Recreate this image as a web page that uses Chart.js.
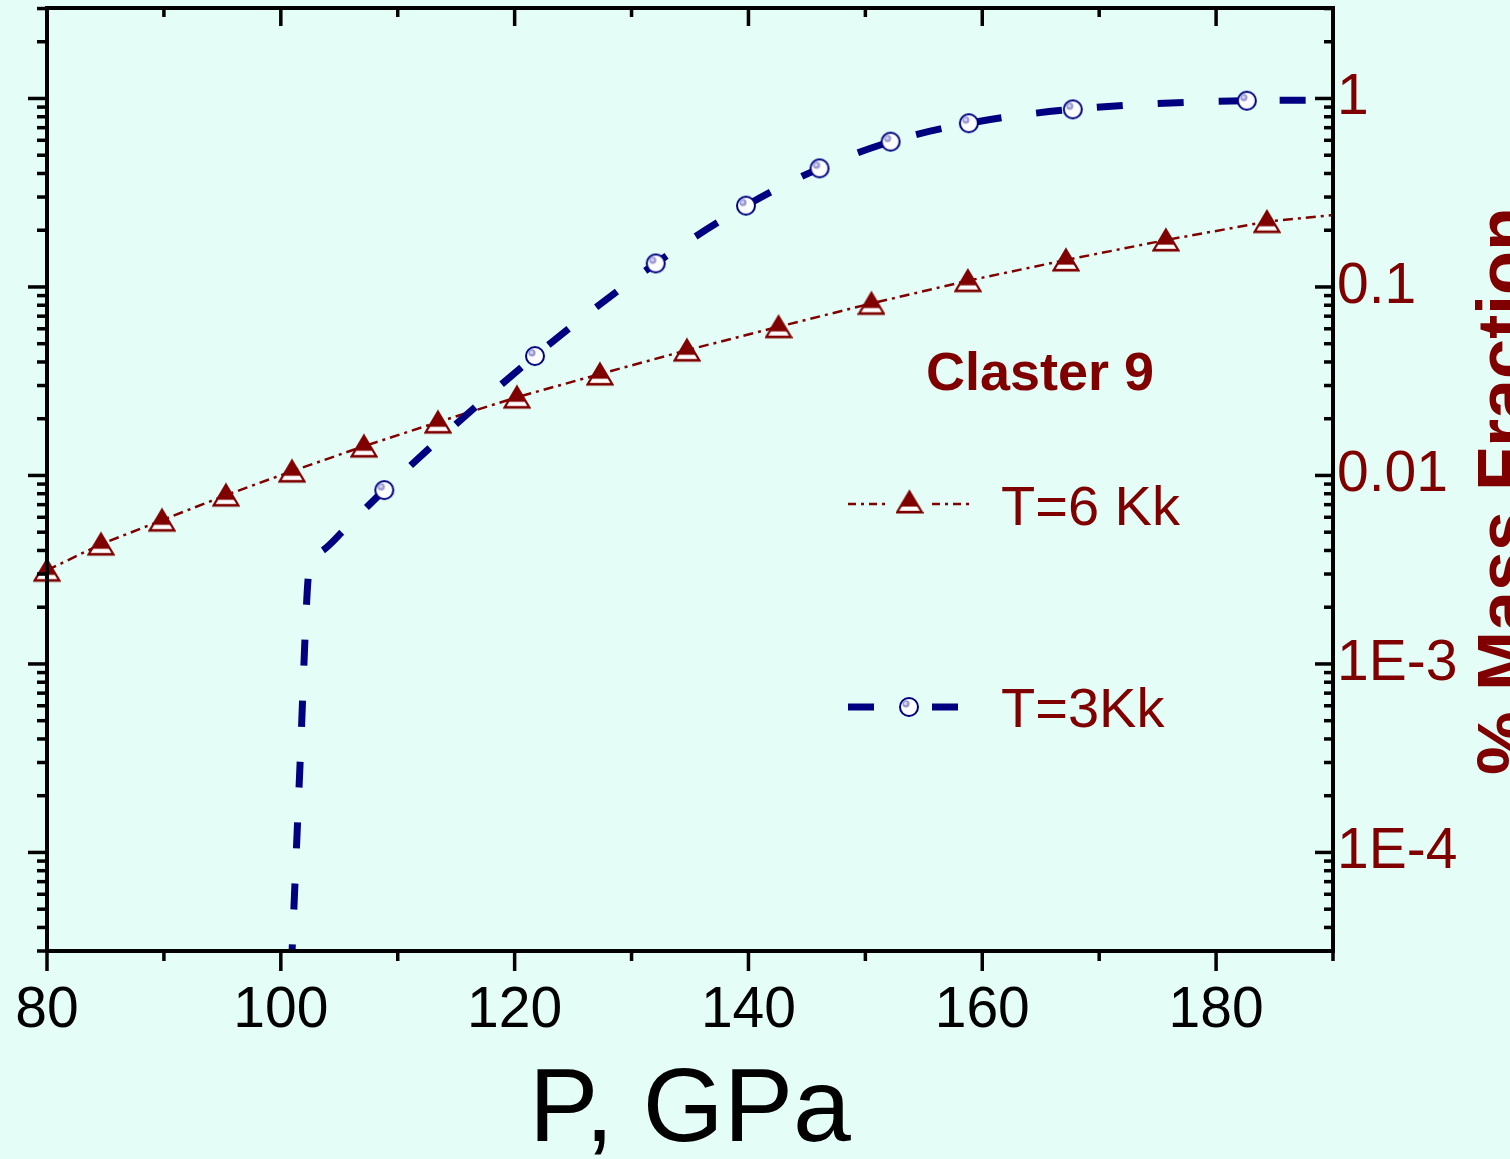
<!DOCTYPE html>
<html><head><meta charset="utf-8">
<script src="https://cdn.jsdelivr.net/npm/chart.js@4.4.1/dist/chart.umd.min.js"></script>
<style>html,body{margin:0;padding:0;background:#e4fef7;} canvas{display:block;}</style>
</head><body>
<canvas id="c" width="1510" height="1159"></canvas>
<script>
// ---- data ----
const t6P = [80, 84.62, 89.84, 95.31, 100.96, 107.11, 113.44, 120.20, 127.30, 134.74, 142.58, 150.52, 158.77, 167.16, 175.71, 184.35];
const t6V = [0.00314, 0.00432, 0.00579, 0.00786, 0.01054, 0.0143, 0.01918, 0.02602, 0.0345, 0.0462, 0.0615, 0.0818, 0.1079, 0.139, 0.1774, 0.222];
const t6EndP = [190];
const t6EndV = [0.241];
const t3P = [108.85, 121.74, 132.07, 139.79, 146.08, 152.16, 158.85, 167.74, 182.63];
const t3V = [0.00836, 0.0430, 0.1334, 0.270, 0.426, 0.590, 0.739, 0.876, 0.973];
const t3CurveP = [100.91, 101.64, 102.33, 102.75, 103.6, 105.4, 190];
const t3CurveV = [2.5e-5, 2.9e-4, 0.00282, 0.00368, 0.00401, 0.00513, 0.98];
const xTickValues = [80, 100, 120, 140, 160, 180];
const xTickLabels = ['80', '100', '120', '140', '160', '180'];
const yTickValues = [1e-4, 1e-3, 0.01, 0.1, 1];
const yTickLabels = ['1E-4', '1E-3', '0.01', '0.1', '1'];
const xMin = 80, xMax = 190, yMin = 3e-5, yMax = 3.02;
const xTitle = 'P, GPa';
const yTitle = '% Mass Fraction';
const note = 'Claster 9';
const seriesNames = ['T=6 Kk', 'T=3Kk'];

const BG = '#e4fef7', RED = '#800000', NAVY = '#000080';
const FONT = '"Liberation Sans", Arial, sans-serif';

function pts(px, vy) { return px.map((p, i) => ({x: p, y: vy[i]})); }
const t6Line = pts(t6P.concat(t6EndP), t6V.concat(t6EndV)).sort((a, b) => a.x - b.x);
const t3Line = pts(t3P.concat(t3CurveP), t3V.concat(t3CurveV)).sort((a, b) => a.x - b.x);

// ---- marker images ----
function makeTriangle() {
  const c = document.createElement('canvas'); c.width = 28; c.height = 26;
  const g = c.getContext('2d');
  const cx = 14, ap = 2.5, base = 23.5, hw = 12.5;
  g.beginPath(); g.moveTo(cx, ap); g.lineTo(cx + hw, base); g.lineTo(cx - hw, base); g.closePath();
  g.fillStyle = RED; g.fill();
  g.save(); g.clip(); g.fillStyle = '#ffffff'; g.fillRect(0, 17.6, 28, 4.2); g.restore();
  g.beginPath(); g.moveTo(cx, ap); g.lineTo(cx + hw, base); g.lineTo(cx - hw, base); g.closePath();
  g.lineWidth = 2.2; g.strokeStyle = RED; g.lineJoin = 'miter'; g.stroke();
  return c;
}
function makeCircle() {
  const c = document.createElement('canvas'); c.width = 26; c.height = 26;
  const g = c.getContext('2d');
  g.beginPath(); g.arc(13, 13, 9, 0, Math.PI * 2); g.fillStyle = '#fbfdff'; g.fill();
  g.lineWidth = 2; g.strokeStyle = NAVY; g.stroke();
  g.beginPath(); g.arc(10, 9.8, 3.6, 0, Math.PI * 2); g.fillStyle = '#9b9bd2'; g.fill();
  g.beginPath(); g.arc(9.6, 9.4, 1.6, 0, Math.PI * 2); g.fillStyle = '#d4d4f2'; g.fill();
  return c;
}
const triImg = makeTriangle();
const cirImg = makeCircle();

function seg(ctx, x1, y1, x2, y2) { ctx.beginPath(); ctx.moveTo(x1, y1); ctx.lineTo(x2, y2); ctx.stroke(); }

const framePlugin = {
  id: 'frame',
  beforeDraw(chart) {
    const c = chart.ctx; c.save(); c.fillStyle = BG; c.fillRect(0, 0, chart.width, chart.height); c.restore();
  },
  afterDraw(chart) {
    const ctx = chart.ctx; const {left, right, top, bottom} = chart.chartArea;
    const xs = chart.scales.x, ys = chart.scales.y;
    ctx.save();
    ctx.strokeStyle = '#000'; ctx.lineCap = 'butt'; ctx.lineWidth = 3.5;
    for (let v = xMin; v <= xMax; v += 10) {
      const px = xs.getPixelForValue(v);
      const major = (v - xMin) % 20 === 0;
      seg(ctx, px, bottom, px, bottom + (major ? 20 : 10));
      seg(ctx, px, top, px, top + (major ? 18 : 9));
    }
    for (let e = -5; e <= 0; e++) {
      for (let m = 1; m <= 9; m++) {
        const v = m * Math.pow(10, e);
        if (v < yMin || v > yMax) continue;
        const py = ys.getPixelForValue(v);
        const major = m === 1;
        seg(ctx, left - (major ? 19 : 10), py, left, py);
        seg(ctx, right - (major ? 18 : 9), py, right, py);
      }
    }
    ctx.lineWidth = 4;
    ctx.strokeRect(left, top, right - left, bottom - top);

    // annotation + legend
    ctx.fillStyle = RED; ctx.textBaseline = 'alphabetic'; ctx.textAlign = 'left';
    ctx.font = 'bold 54px ' + FONT;
    ctx.fillText(note, 926, 390);
    ctx.font = '56px ' + FONT;
    ctx.fillText(seriesNames[0], 1001, 525);
    ctx.fillText(seriesNames[1], 1001, 727);

    ctx.strokeStyle = RED; ctx.lineWidth = 2.5; ctx.setLineDash([8, 5, 3, 5]);
    seg(ctx, 848, 504, 887, 504); seg(ctx, 932, 504, 971, 504);
    ctx.setLineDash([]);
    ctx.drawImage(triImg, 909.5 - triImg.width / 2, 502 - triImg.height / 2);
    ctx.strokeStyle = NAVY; ctx.lineWidth = 7;
    seg(ctx, 848, 707, 874, 707); seg(ctx, 932, 707, 958, 707);
    ctx.drawImage(cirImg, 909 - cirImg.width / 2, 707 - cirImg.height / 2);

    // right axis title (rotated)
    ctx.translate(1528, 491); ctx.rotate(-Math.PI / 2);
    ctx.font = 'bold 72px ' + FONT; ctx.textAlign = 'center'; ctx.textBaseline = 'alphabetic';
    ctx.fillStyle = RED;
    ctx.fillText(yTitle, 0, 0);
    ctx.restore();
  }
};

new Chart(document.getElementById('c'), {
  type: 'scatter',
  data: {
    datasets: [
      {label: seriesNames[1] + ' markers', data: pts(t3P, t3V), showLine: false, pointStyle: cirImg, pointRadius: 10, pointHoverRadius: 10, clip: false},
      {label: seriesNames[1], data: t3Line, showLine: true, pointRadius: 0, pointHoverRadius: 0, borderColor: NAVY, borderWidth: 7, borderDash: [26, 35], borderDashOffset: 4.5, cubicInterpolationMode: 'monotone', fill: false},
      {label: seriesNames[0] + ' markers', data: pts(t6P, t6V), showLine: false, pointStyle: triImg, pointRadius: 12, pointHoverRadius: 12, clip: false},
      {label: seriesNames[0], data: t6Line, showLine: true, pointRadius: 0, pointHoverRadius: 0, borderColor: RED, borderWidth: 2.5, borderDash: [10, 5, 3, 5], tension: 0, fill: false}
    ]
  },
  options: {
    responsive: false, animation: false, events: [],
    layout: {autoPadding: false, padding: {top: 8, left: 0, right: 0, bottom: 0}},
    plugins: {legend: {display: false}, tooltip: {enabled: false}},
    scales: {
      x: {
        type: 'linear', position: 'bottom', min: xMin, max: xMax,
        grid: {display: false, drawTicks: false}, border: {display: false},
        ticks: {font: {family: FONT, size: 57}, color: '#000', padding: 26, maxRotation: 0, autoSkip: false,
          callback: (v, i) => xTickLabels[i]},
        afterBuildTicks: s => { s.ticks = xTickValues.map(v => ({value: v})); },
        afterFit: s => { s.height = 208; s.paddingLeft = 0; s.paddingRight = 0; },
        title: {display: true, text: xTitle, color: '#000', font: {family: FONT, size: 104, lineHeight: 0.9}, padding: {top: 0, bottom: 0}}
      },
      y: {
        type: 'logarithmic', position: 'left', min: yMin, max: yMax,
        grid: {display: false, drawTicks: false}, border: {display: false}, ticks: {display: false},
        afterFit: s => { s.width = 47; s.paddingTop = 0; s.paddingBottom = 0; }
      },
      y2: {
        type: 'logarithmic', position: 'right', min: yMin, max: yMax,
        grid: {display: false, drawTicks: false}, border: {display: false},
        ticks: {font: {family: FONT, size: 57}, color: RED, padding: 4, autoSkip: false,
          callback: (v, i) => yTickLabels[i]},
        afterBuildTicks: s => { s.ticks = yTickValues.map(v => ({value: v})); },
        afterFit: s => { s.width = 177; s.paddingTop = 0; s.paddingBottom = 0; }
      }
    }
  },
  plugins: [framePlugin]
});
</script>
</body></html>
